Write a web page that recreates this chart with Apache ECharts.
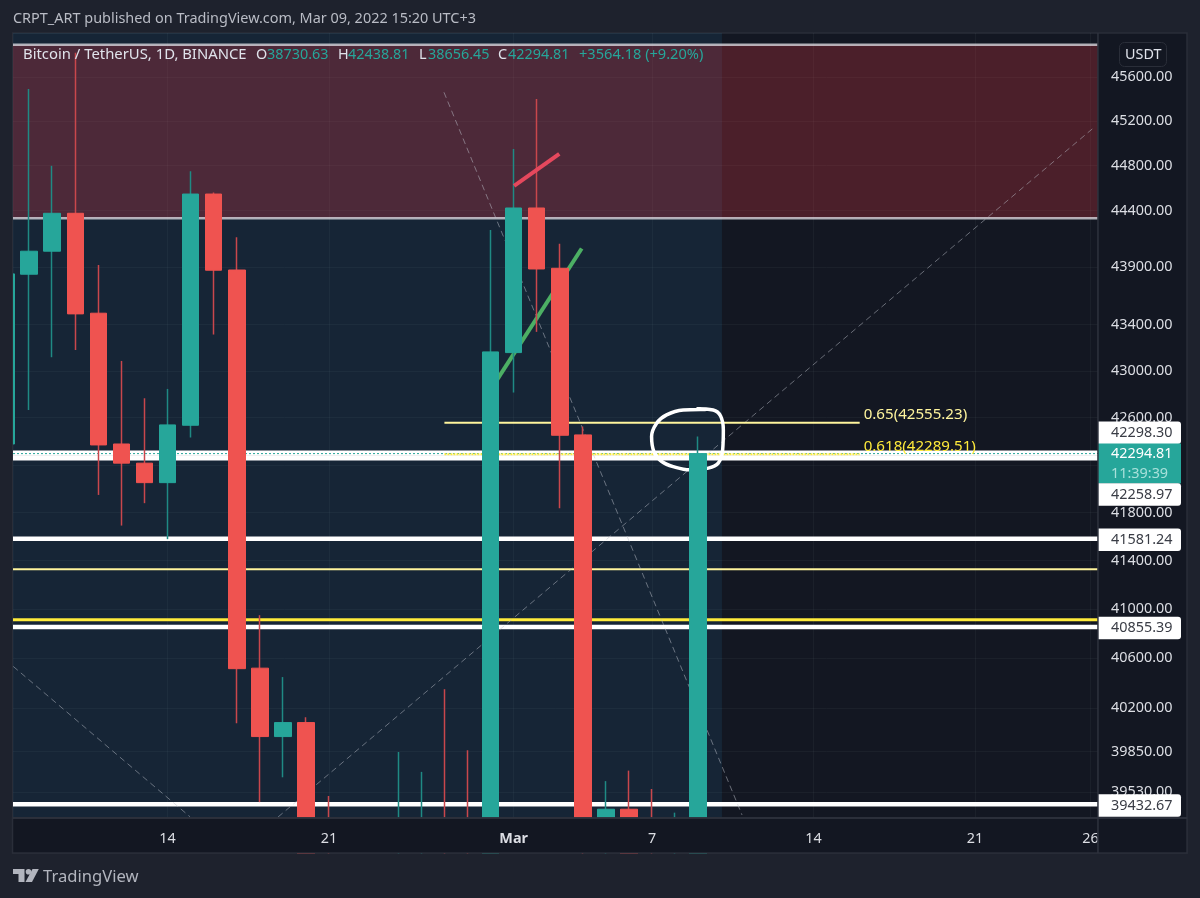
<!DOCTYPE html>
<html>
<head>
<meta charset="utf-8">
<title>BTCUSDT 1D</title>
<script src="https://cdn.jsdelivr.net/npm/echarts@6/dist/echarts.min.js"></script>
<style>
  html, body { margin: 0; padding: 0; background: #1e222d; }
  #chart { width: 1200px; height: 898px; }
</style>
</head>
<body>
<div id="chart"></div>
<script>
// Daily candles, Feb 7 to Mar 9 2022. The x axis counts days from Feb 1 (day 29 is Mar 1).
const candleDays = [7,8,9,10,11,12,13,14,15,16,17,18,19,20,21,22,23,24,25,26,27,28,29,30,31,32,33,34,35,36,37];
const opens  = [42376,43838,44040,44375,43498,42376,42214,42050,42535,44546,43875,40520,39970,40082,38386,37008,37250,37250,38328,39219,39116,37699,43157,44422,43890,42453,39148,39394,38420,37988,38730.63];
const closes = [43841,44040,44375,43492,42368,42214,42050,42538,44546,43873,40516,39970,40082,38386,37008,38230,37250,38327,39219,39116,37699,43163,44422,43884,42450,39148,39394,38420,37988,38730,42294.81];
const lows   = [41900,42665,43117,43180,41947,41691,41878,41578,42430,43313,40077,39450,39646,38020,36800,36350,34322,34322,38014,38600,37050,37450,42814,43336,41836,38550,38600,38100,37155,37867,38656.45];
const highs  = [44500,45491,44798,45822,43919,43085,42765,42845,44749,44560,44163,40951,40448,40125,39498,38429,39249,39847,39689,40350,39860,44227,44949,45400,44105,42524,39616,39699,39554,39367,42438.81];

// Horizontal levels
const pairedLevels = [42298.30, 42258.97];
const whiteLevels = [41581.24, 40855.39, 39432.67];
const zoneEdges = [45895, 44331];
const softYellowLevel = 41329;
const brightYellowLevel = 40913;
const lastPrice = 42294.81;
const fibLevels = [0.65, 0.618];
const fibPrices = [42555.23, 42289.51];
const fibDays = [26, 44];

// Axis ticks
const priceTicks = [45600,45200,44800,44400,43900,43400,43000,42600,42200,41800,41400,41000,40600,40200,39850,39530];
const dayTicks = [14, 21, 29, 35, 42, 49, 54];
const dayTickLabels = ['14', '21', 'Mar', '7', '14', '21', '26'];

// Drawn trend lines as [day, price] pairs
const fallingDash = [[25.98,45461],[38.90,39349]];
const risingDash = [[18.79,39333],[54.2,45150]];
const leftDash = [[7.31,40534],[14.97,39335]];
const redStroke = [[29.02,44618],[30.98,44904]];
const greenStroke = [[28,42837],[31.95,44064]];
const markerRing = [[36.93,42676],[37.65,42665],[37.97,42614],[38.09,42495],[38.06,42326],[37.87,42214],[37.44,42172],[36.64,42158],[35.99,42181],[35.42,42228],[35.08,42312],[34.98,42439],[35.20,42552],[35.63,42623],[36.35,42665],[37.37,42671]];

// Price tags on the right scale
const tagPrices = [42298.30, 42294.81, 42258.97, 41581.24, 40855.39, 39432.67];
const tagTexts = ['42298.30', '42294.81', '42258.97', '41581.24', '40855.39', '39432.67'];
const tagShifts = [-20.5, 10, 36.7, 1, 1, 1.2];
const countdown = '11:39:39';

const UI_FONT = '"Noto Sans", sans-serif';
const SCALE_SIZE = 14.4;
const LABEL_COLOR = '#dcdee4';
const UP = '#26a69a', DOWN = '#ef5350';
const PAGE_BG = '#1e222d', PANE_BG = '#131722', PANE_EDGE = '#2a2e39';
const X_MIN = 7.30, X_MAX = 54.33;
const BAND_END = 38.03;
const Y_MIN = 39325, Y_MAX = 46002.5;

function pathSeries(name, pts, color, width, z, extra) {
  return Object.assign({
    name, type: 'line', data: pts, showSymbol: false, symbol: 'none', silent: true, z,
    lineStyle: { color, width, cap: 'butt' }, animation: false
  }, extra || {});
}
function levelSeries(name, price, color, width, z, extra) {
  return {
    name, type: 'line', data: [[X_MIN, price], [X_MAX, price]], showSymbol: false, symbol: 'none', silent: true, z,
    lineStyle: Object.assign({ color, width }, extra || {}), animation: false
  };
}
const dash = { type: [6, 4] };
const dashColor = 'rgba(190,193,203,0.5)';

const series = [];

// Shaded session band and resistance zone
series.push({
  name: 'Zones', type: 'line', data: [], silent: true,
  markArea: {
    silent: true, z: 1, animation: false,
    data: [
      [{ xAxis: X_MIN, yAxis: Y_MAX, itemStyle: { color: 'rgba(50,170,240,0.1)' } }, { xAxis: BAND_END, yAxis: Y_MIN }],
      [{ xAxis: X_MIN, yAxis: zoneEdges[0], itemStyle: { color: 'rgba(242,54,69,0.25)' } }, { xAxis: X_MAX, yAxis: zoneEdges[1] }]
    ]
  }
});

zoneEdges.forEach((p, i) => series.push(levelSeries('Zone edge ' + i, p, 'rgba(225,225,232,0.75)', 2.5, 3)));
pairedLevels.forEach(p => series.push(levelSeries('Level ' + p, p, '#ffffff', 5.2, 3)));
whiteLevels.forEach(p => series.push(levelSeries('Level ' + p, p, '#ffffff', 4.5, 3)));
series.push(levelSeries('Soft yellow level', softYellowLevel, '#fff59d', 2, 3));
series.push(levelSeries('Bright yellow level', brightYellowLevel, '#ffeb3b', 3, 3));
series.push(levelSeries('Last price', lastPrice, '#26a69a', 1, 5, { type: [2, 2] }));

// Trend lines
[['Falling trend', fallingDash], ['Rising trend', risingDash], ['Left trend', leftDash]].forEach(([n, pts]) => {
  series.push(pathSeries(n, pts, dashColor, 1, 4, { lineStyle: Object.assign({ color: dashColor, width: 1 }, dash) }));
});
series.push(pathSeries('Green stroke', greenStroke, '#4caf64', 4, 6));

// Fibonacci levels with their captions
fibLevels.forEach((lvl, i) => {
  const bright = i === 1;
  const color = bright ? '#ffeb3b' : '#fff59d';
  series.push({
    name: 'Fib ' + lvl, type: 'line', showSymbol: false, symbol: 'none', silent: true, z: 6, animation: false,
    data: [[fibDays[0], fibPrices[i]], [fibDays[1], fibPrices[i]]],
    lineStyle: bright ? { color, width: 2, type: [2, 1] } : { color, width: 2 },
    endLabel: {
      show: true, formatter: lvl + '(' + fibPrices[i].toFixed(2) + ')',
      color, fontFamily: UI_FONT, fontSize: 15.1, align: 'left', offset: [-4, -8]
    }
  });
});

// Hand-drawn ring around the latest candle
series.push(pathSeries('Ring', markerRing.concat([markerRing[0]]), '#ffffff', 3.5, 8, { smooth: 0.4 }));

// Candles: wick layer below, body layer above
series.push({
  name: 'Wicks', type: 'candlestick', z: 10, barWidth: 1, silent: true, animation: false,
  encode: { x: 0, y: [1, 2, 3, 4] },
  data: candleDays.map((d, i) => [d, opens[i], closes[i], lows[i], highs[i]]),
  itemStyle: { color: '#1f8a84', color0: '#c9474c', borderColor: '#1f8a84', borderColor0: '#c9474c', borderWidth: 1.5 }
});
series.push({
  name: 'BTCUSDT', type: 'candlestick', z: 11, barWidth: 17, silent: true, animation: false,
  encode: { x: 0, y: [1, 2, 3, 4] },
  data: candleDays.map((d, i) => [d, opens[i], closes[i], Math.min(opens[i], closes[i]), Math.max(opens[i], closes[i])]),
  itemStyle: { color: UP, color0: DOWN, borderColor: UP, borderColor0: DOWN, borderWidth: 1 }
});
series.push(pathSeries('Red stroke', redStroke, '#e5485d', 4, 12));

// Price tags overlapping the right scale
series.push({
  name: 'Price tags', type: 'custom', z: 20, silent: true, animation: false,
  coordinateSystem: 'cartesian2d', clip: false,
  encode: { x: 0, y: 1 },
  data: tagPrices.map((p, i) => [X_MAX, p, i]),
  renderItem(params, api) {
    const i = api.value(2);
    const pt = api.coord([api.value(0), api.value(1)]);
    const isLast = i === 1;
    const h = isLast ? 40 : 22.5;
    const cy = pt[1] + tagShifts[i];
    const children = [{
      type: 'rect',
      shape: { x: pt[0], y: cy - h / 2, width: 83, height: h, r: isLast ? 0 : [0, 3, 3, 0] },
      style: { fill: isLast ? UP : '#ffffff' }
    }, {
      type: 'text',
      style: {
        x: pt[0] + 13, y: isLast ? cy - 10 : cy, text: tagTexts[i],
        fill: isLast ? '#ffffff' : '#3a3d46', font: SCALE_SIZE + 'px ' + UI_FONT,
        textVerticalAlign: 'middle', textAlign: 'left'
      }
    }];
    if (isLast) {
      children.push({
        type: 'text',
        style: {
          x: pt[0] + 13, y: cy + 10, text: countdown,
          fill: '#a8e0da', font: SCALE_SIZE + 'px ' + UI_FONT, textVerticalAlign: 'middle', textAlign: 'left'
        }
      });
    }
    return { type: 'group', children };
  }
});

// Text above the plot
const legendName = 'Bitcoin / TetherUS, 1D, BINANCE';
const legendKeys = ['O', 'H', 'L', 'C'];
const legendValues = ['38730.63', '42438.81', '38656.45', '42294.81'];
const legendKeyX = [256, 338, 419, 498];
const legendValueX = [267, 348, 428, 508];
const legendChange = '+3564.18 (+9.20%)';
const publishedLine = 'CRPT_ART published on TradingView.com, Mar 09, 2022 15:20 UTC+3';
const quoteCurrency = 'USDT';
const brandName = 'TradingView';

const textEl = (x, y, text, fill, size, weight) => ({
  type: 'text', x, y, z: 100, silent: true,
  style: { text, fill, font: (weight || 'normal') + ' ' + size + 'px ' + UI_FONT, textVerticalAlign: 'middle', textAlign: 'left' }
});

const graphicElements = [
  { type: 'rect', z: -10, silent: true, shape: { x: 12.5, y: 33, width: 1174.5, height: 820 }, style: { fill: PANE_BG, stroke: PANE_EDGE, lineWidth: 1.5 } },
  // Bars running past the plot edges end at the surrounding chrome
  { type: 'rect', z: 15, silent: true, shape: { x: 0, y: 0, width: 12, height: 898 }, style: { fill: PAGE_BG } },
  { type: 'rect', z: 15, silent: true, shape: { x: 0, y: 854, width: 1200, height: 44 }, style: { fill: PAGE_BG } },
  { type: 'rect', z: 15, silent: true, shape: { x: 12.5, y: 818, width: 1174.5, height: 35 }, style: { fill: PANE_BG, stroke: PANE_EDGE, lineWidth: 1.5 } },
  { type: 'rect', z: 15, silent: true, shape: { x: 12, y: 33, width: 1, height: 785 }, style: { fill: PANE_EDGE } },
  { type: 'rect', z: 50, silent: true, shape: { x: 1097.2, y: 33, width: 1.5, height: 820 }, style: { fill: '#2f333e' } },
  { type: 'rect', z: 50, silent: true, shape: { x: 13, y: 817.2, width: 1174, height: 1.5 }, style: { fill: '#2f333e' } },
  textEl(13, 19, publishedLine, '#b9bcc5', 14.45),
  textEl(23, 54.5, legendName, '#e0e3eb', 14.85),
  textEl(579, 54.5, legendChange, UP, 14.6),
  { type: 'rect', z: 99, silent: true, shape: { x: 1119.5, y: 42.5, width: 47, height: 24, r: 5 }, style: { fill: PANE_BG, stroke: PANE_EDGE, lineWidth: 1 } },
  textEl(1125, 54.5, quoteCurrency, '#e0e3eb', 14.4),
  textEl(43, 877, brandName, '#b2b5be', 16.6),
  { type: 'polygon', z: 100, silent: true, shape: { points: [[13, 869], [24.5, 869], [24.5, 882], [18.5, 882], [18.5, 874], [13, 874]] }, style: { fill: '#b2b5be' } },
  { type: 'circle', z: 100, silent: true, shape: { cx: 28.5, cy: 871.8, r: 2.8 }, style: { fill: '#b2b5be' } },
  { type: 'polygon', z: 100, silent: true, shape: { points: [[32.5, 869], [38.8, 869], [32, 882], [25.5, 882]] }, style: { fill: '#b2b5be' } }
];
legendKeys.forEach((k, i) => {
  graphicElements.push(textEl(legendKeyX[i], 54.5, k, '#e0e3eb', 14.4));
  graphicElements.push(textEl(legendValueX[i], 54.5, legendValues[i], UP, 14.4));
});

const gridLine = { show: true, lineStyle: { color: 'rgba(240,243,250,0.04)', width: 1 } };

const chart = echarts.init(document.getElementById('chart'), null, { renderer: 'canvas' });
chart.setOption({
  animation: false,
  backgroundColor: PAGE_BG,
  grid: { left: 13, right: 102, top: 33, bottom: 80, containLabel: false },
  xAxis: [{
    // Carries the vertical grid lines beneath the candles
    type: 'value', position: 'bottom', min: X_MIN, max: X_MAX,
    axisLine: { show: false }, axisTick: { show: false, customValues: dayTicks },
    splitLine: gridLine,
    axisLabel: { show: false }
  }, {
    // Carries the date labels above the time pane
    type: 'value', position: 'bottom', min: X_MIN, max: X_MAX, z: 30,
    axisLine: { show: false }, axisTick: { show: false },
    splitLine: { show: false },
    axisLabel: {
      customValues: dayTicks,
      margin: 14, color: LABEL_COLOR, fontFamily: UI_FONT, fontSize: SCALE_SIZE, hideOverlap: false,
      formatter: v => {
        const text = dayTickLabels[dayTicks.indexOf(v)];
        return text === 'Mar' ? '{m|Mar}' : text;
      },
      rich: { m: { fontWeight: 'bold', color: LABEL_COLOR, fontFamily: UI_FONT, fontSize: SCALE_SIZE } }
    }
  }],
  yAxis: {
    type: 'log', position: 'right', min: Y_MIN, max: Y_MAX, logBase: 10,
    axisLine: { show: false }, axisTick: { show: false, customValues: priceTicks },
    splitLine: gridLine,
    axisLabel: {
      customValues: priceTicks,
      margin: 13, color: LABEL_COLOR, fontFamily: UI_FONT, fontSize: SCALE_SIZE, align: 'left',
      formatter: v => Number(v).toFixed(2)
    }
  },
  series,
  graphic: { elements: graphicElements }
});
</script>
</body>
</html>
